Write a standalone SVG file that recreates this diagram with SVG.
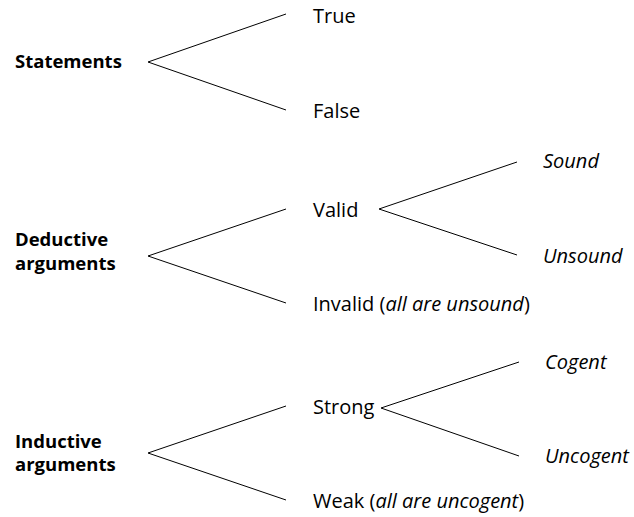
<svg xmlns="http://www.w3.org/2000/svg" width="634" height="517" viewBox="0 0 634 517">
  <style>
    text { font-family: "Open Sans", "Lato", "Liberation Sans", sans-serif; font-size: 20px; fill: #000; }
    .head { font-weight: bold; font-size: 18.5px; }
    .em { font-style: italic; }
    .edge { stroke: #000; stroke-width: 1; fill: none; }
  </style>
  <rect width="634" height="517" fill="#fff"/>

  <!-- branching connectors -->
  <g id="connectors">
    <polyline class="edge" points="286,14 148,62 286,110"/>
    <polyline class="edge" points="286,209 148,256 286,303"/>
    <polyline class="edge" points="517,162 379,209 517,255"/>
    <polyline class="edge" points="286,406 148,453 286,500"/>
    <polyline class="edge" points="519,362 381,408 519,456"/>
  </g>

  <!-- statements -->
  <g id="statements"><text class="head" x="15" y="68">Statements</text></g>
  <g id="true"><text x="313" y="23">True</text></g>
  <g id="false"><text x="313" y="118">False</text></g>

  <!-- deductive arguments -->
  <g id="deductive"><text class="head" x="15" y="246">Deductive</text><text class="head" x="15" y="270">arguments</text></g>
  <g id="valid"><text x="313" y="217">Valid</text></g>
  <g id="invalid"><text x="313" y="311">Invalid (<tspan class="em">all are unsound</tspan>)</text></g>
  <g id="sound"><text class="em" x="543" y="168">Sound</text></g>
  <g id="unsound"><text class="em" x="543" y="263">Unsound</text></g>

  <!-- inductive arguments -->
  <g id="inductive"><text class="head" x="15" y="448">Inductive</text><text class="head" x="15" y="471">arguments</text></g>
  <g id="strong"><text x="313" y="414">Strong</text></g>
  <g id="weak"><text x="313" y="508">Weak (<tspan class="em">all are uncogent</tspan>)</text></g>
  <g id="cogent"><text class="em" x="545" y="369">Cogent</text></g>
  <g id="uncogent"><text class="em" x="545" y="463">Uncogent</text></g>
</svg>
